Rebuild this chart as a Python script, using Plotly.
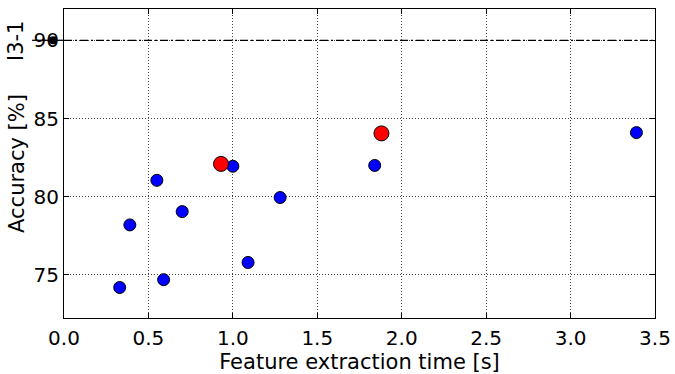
import plotly.graph_objects as go

blue_x = [0.33, 0.59, 0.39, 0.55, 0.70, 1.00, 1.28, 1.09, 1.84, 3.39]
blue_y = [74.2, 74.7, 78.2, 81.05, 79.05, 81.95, 79.95, 75.8, 82.0, 84.1]
red_x = [0.93, 1.88]
red_y = [82.1, 84.05]
ref_y = 90
x_ticks = [0.0, 0.5, 1.0, 1.5, 2.0, 2.5, 3.0, 3.5]
y_ticks = [75, 80, 85, 90]

FONT = "DejaVu Sans"
FS = 20
FT = 21

fig = go.Figure()
fig.add_trace(go.Scatter(x=blue_x, y=blue_y, mode="markers",
                         marker=dict(color="#0000ff", size=12, line=dict(color="black", width=1)),
                         showlegend=False))
fig.add_trace(go.Scatter(x=red_x, y=red_y, mode="markers",
                         marker=dict(color="#ff0000", size=15, line=dict(color="black", width=1)),
                         showlegend=False))
# reference line across the plot
fig.add_shape(type="line", xref="paper", yref="y", x0=0, x1=1, y0=ref_y, y1=ref_y,
              line=dict(color="black", width=1.3, dash="8px,3px,2px,3px"))
# legend-like segment and marker outside the axes
fig.add_shape(type="line", xref="paper", yref="y", x0=-0.054, x1=0, y0=ref_y, y1=ref_y,
              line=dict(color="black", width=1.3))
fig.add_shape(type="circle", xref="paper", yref="y", xsizemode="pixel", ysizemode="pixel",
              xanchor=-0.0186, yanchor=ref_y, x0=-4, x1=4, y0=-4, y1=4,
              fillcolor="black", line=dict(color="black", width=0))
fig.add_annotation(text="I3-1", xref="paper", yref="y", x=-0.08, y=ref_y,
                   textangle=-90, showarrow=False, xanchor="center", yanchor="middle",
                   font=dict(family=FONT, size=FT, color="black"))

axis_common = dict(showline=True, linecolor="black", linewidth=1, mirror="allticks",
                   ticks="inside", ticklen=5, tickcolor="black", automargin=False,
                   showgrid=True, gridcolor="#444444", griddash="1px,2px", gridwidth=1,
                   zeroline=False, tickfont=dict(family=FONT, size=FS, color="black"))

fig.update_xaxes(range=[0, 3.5], tickvals=x_ticks, ticktext=[f"{v:.1f}" for v in x_ticks],
                 ticklabelstandoff=2,
                 title=dict(text="Feature extraction time [s]", font=dict(family=FONT, size=FT, color="black"),
                            standoff=6),
                 **axis_common)
fig.update_yaxes(range=[72.25, 92.0], tickvals=y_ticks, ticktext=[str(v) for v in y_ticks],
                 title=dict(text="Accuracy [%]", font=dict(family=FONT, size=FT, color="black"),
                            standoff=3),
                 **axis_common)

fig.update_layout(width=675, height=374, margin=dict(l=64, r=20, t=9, b=56),
                  plot_bgcolor="white", paper_bgcolor="white",
                  font=dict(family=FONT, color="black"))

fig.write_html("out.html")
